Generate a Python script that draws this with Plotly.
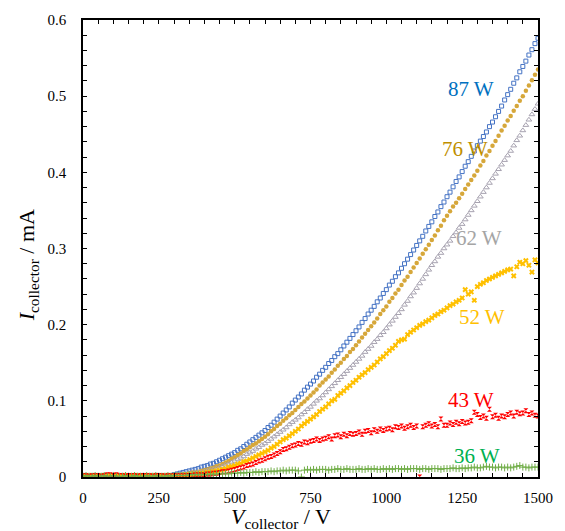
import plotly.graph_objects as go

# collector voltage (V), one reading every 10 V
v_collector = list(range(0, 1510, 10))

series_names = ["87 W", "76 W", "62 W", "52 W", "43 W", "36 W"]

# collector current (mA)
i_87w = [
    0.002, 0.002, 0.001, 0.002, 0.002, 0.001, 0.002, 0.002, 0.002, 0.001,
    0.002, 0.002, 0.001, 0.002, 0.002, 0.002, 0.001, 0.002, 0.002, 0.002,
    0.002, 0.001, 0.002, 0.002, 0.002, 0.002, 0.001, 0.002, 0.002, 0.002,
    0.003, 0.004, 0.005, 0.006, 0.007, 0.008, 0.009, 0.010, 0.011, 0.013,
    0.014, 0.015, 0.017, 0.018, 0.020, 0.022, 0.024, 0.026, 0.028, 0.030,
    0.032, 0.035, 0.037, 0.040, 0.043, 0.046, 0.049, 0.052, 0.055, 0.058,
    0.061, 0.065, 0.068, 0.072, 0.076, 0.080, 0.084, 0.088, 0.092, 0.097,
    0.101, 0.105, 0.109, 0.114, 0.118, 0.122, 0.126, 0.131, 0.135, 0.140,
    0.144, 0.149, 0.153, 0.158, 0.162, 0.167, 0.172, 0.177, 0.182, 0.187,
    0.192, 0.197, 0.203, 0.208, 0.214, 0.219, 0.224, 0.230, 0.235, 0.241,
    0.246, 0.252, 0.257, 0.263, 0.268, 0.274, 0.280, 0.286, 0.292, 0.298,
    0.304, 0.310, 0.316, 0.323, 0.329, 0.335, 0.342, 0.348, 0.355, 0.361,
    0.368, 0.374, 0.381, 0.388, 0.394, 0.401, 0.408, 0.414, 0.421, 0.428,
    0.435, 0.441, 0.447, 0.453, 0.460, 0.466, 0.473, 0.480, 0.487, 0.495,
    0.502, 0.509, 0.517, 0.524, 0.532, 0.539, 0.546, 0.554, 0.561, 0.569,
    0.576,
]
i_76w = [
    0.002, 0.001, 0.002, 0.002, 0.001, 0.002, 0.002, 0.002, 0.001, 0.002,
    0.002, 0.001, 0.002, 0.002, 0.002, 0.001, 0.002, 0.002, 0.001, 0.002,
    0.002, 0.002, 0.001, 0.002, 0.002, 0.001, 0.002, 0.002, 0.002, 0.002,
    0.002, 0.003, 0.003, 0.004, 0.004, 0.005, 0.006, 0.006, 0.007, 0.008,
    0.009, 0.010, 0.011, 0.012, 0.014, 0.015, 0.017, 0.019, 0.021, 0.024,
    0.026, 0.029, 0.031, 0.034, 0.036, 0.039, 0.042, 0.044, 0.047, 0.050,
    0.053, 0.056, 0.060, 0.063, 0.067, 0.070, 0.074, 0.077, 0.081, 0.084,
    0.088, 0.092, 0.096, 0.099, 0.103, 0.107, 0.111, 0.115, 0.120, 0.124,
    0.128, 0.132, 0.137, 0.141, 0.146, 0.150, 0.155, 0.159, 0.164, 0.168,
    0.173, 0.178, 0.183, 0.188, 0.193, 0.198, 0.203, 0.208, 0.214, 0.219,
    0.224, 0.230, 0.235, 0.241, 0.246, 0.252, 0.258, 0.263, 0.269, 0.275,
    0.281, 0.287, 0.293, 0.299, 0.305, 0.311, 0.317, 0.324, 0.330, 0.337,
    0.343, 0.349, 0.355, 0.360, 0.366, 0.372, 0.378, 0.384, 0.390, 0.396,
    0.402, 0.409, 0.415, 0.422, 0.428, 0.435, 0.441, 0.448, 0.455, 0.461,
    0.468, 0.474, 0.481, 0.487, 0.494, 0.500, 0.507, 0.514, 0.521, 0.528,
    0.535,
]
i_62w = [
    0.001, 0.002, 0.002, 0.001, 0.002, 0.002, 0.001, 0.002, 0.002, 0.002,
    0.001, 0.002, 0.002, 0.002, 0.001, 0.002, 0.002, 0.001, 0.002, 0.002,
    0.002, 0.001, 0.002, 0.002, 0.001, 0.002, 0.002, 0.002, 0.001, 0.002,
    0.002, 0.002, 0.003, 0.003, 0.003, 0.004, 0.004, 0.005, 0.006, 0.006,
    0.007, 0.008, 0.009, 0.010, 0.011, 0.012, 0.014, 0.016, 0.017, 0.019,
    0.021, 0.023, 0.025, 0.027, 0.030, 0.032, 0.034, 0.037, 0.039, 0.042,
    0.044, 0.047, 0.050, 0.053, 0.056, 0.059, 0.062, 0.065, 0.069, 0.072,
    0.075, 0.078, 0.082, 0.085, 0.089, 0.092, 0.096, 0.100, 0.103, 0.107,
    0.111, 0.115, 0.119, 0.123, 0.127, 0.131, 0.135, 0.139, 0.143, 0.147,
    0.151, 0.155, 0.159, 0.164, 0.168, 0.172, 0.177, 0.181, 0.186, 0.190,
    0.195, 0.200, 0.205, 0.210, 0.215, 0.220, 0.226, 0.231, 0.237, 0.242,
    0.248, 0.254, 0.260, 0.266, 0.272, 0.278, 0.283, 0.289, 0.294, 0.300,
    0.305, 0.310, 0.316, 0.321, 0.327, 0.332, 0.338, 0.344, 0.350, 0.356,
    0.362, 0.368, 0.374, 0.380, 0.386, 0.392, 0.398, 0.404, 0.410, 0.416,
    0.422, 0.428, 0.435, 0.442, 0.448, 0.455, 0.462, 0.469, 0.476, 0.483,
    0.490,
]
i_52w = [
    0.002, 0.001, 0.002, 0.002, 0.002, 0.001, 0.002, 0.002, 0.001, 0.002,
    0.002, 0.002, 0.001, 0.002, 0.002, 0.001, 0.002, 0.002, 0.002, 0.001,
    0.002, 0.002, 0.001, 0.002, 0.002, 0.002, 0.001, 0.002, 0.002, 0.001,
    0.001, 0.002, 0.002, 0.002, 0.003, 0.003, 0.003, 0.004, 0.004, 0.005,
    0.005, 0.006, 0.006, 0.007, 0.008, 0.009, 0.010, 0.011, 0.013, 0.014,
    0.015, 0.017, 0.018, 0.020, 0.021, 0.023, 0.025, 0.027, 0.029, 0.031,
    0.033, 0.035, 0.038, 0.040, 0.043, 0.046, 0.049, 0.051, 0.054, 0.057,
    0.060, 0.063, 0.067, 0.070, 0.073, 0.076, 0.079, 0.082, 0.086, 0.089,
    0.092, 0.096, 0.100, 0.102, 0.107, 0.110, 0.113, 0.117, 0.120, 0.124,
    0.127, 0.131, 0.134, 0.137, 0.141, 0.144, 0.147, 0.151, 0.155, 0.158,
    0.162, 0.166, 0.169, 0.173, 0.178, 0.180, 0.181, 0.187, 0.190, 0.193,
    0.196, 0.199, 0.201, 0.204, 0.206, 0.209, 0.212, 0.214, 0.217, 0.219,
    0.222, 0.225, 0.227, 0.230, 0.232, 0.235, 0.246, 0.240, 0.243, 0.232,
    0.250, 0.253, 0.255, 0.258, 0.260, 0.262, 0.264, 0.266, 0.268, 0.270,
    0.272, 0.273, 0.264, 0.276, 0.282, 0.280, 0.284, 0.278, 0.269, 0.285,
    0.281,
]
i_43w = [
    0.002, 0.002, 0.001, 0.002, 0.002, 0.002, 0.001, 0.002, 0.003, 0.003,
    0.002, 0.003, 0.002, 0.002, 0.001, 0.002, 0.002, 0.002, 0.001, 0.002,
    0.002, 0.002, 0.002, 0.001, 0.002, 0.002, 0.002, 0.001, 0.002, 0.002,
    0.002, 0.002, 0.002, 0.002, 0.002, 0.002, 0.002, 0.003, 0.003, 0.003,
    0.003, 0.004, 0.004, 0.005, 0.005, 0.006, 0.007, 0.007, 0.008, 0.009,
    0.010, 0.011, 0.012, 0.013, 0.015, 0.016, 0.017, 0.019, 0.021, 0.022,
    0.024, 0.026, 0.027, 0.029, 0.031, 0.033, 0.036, 0.037, 0.039, 0.041,
    0.042, 0.044, 0.043, 0.046, 0.045, 0.047, 0.048, 0.050, 0.048, 0.050,
    0.051, 0.053, 0.050, 0.054, 0.055, 0.053, 0.056, 0.054, 0.057, 0.056,
    0.057, 0.059, 0.056, 0.060, 0.061, 0.058, 0.062, 0.060, 0.063, 0.061,
    0.063, 0.064, 0.062, 0.066, 0.065, 0.067, 0.064, 0.066, 0.068, 0.065,
    0.067, 0.000, 0.066, 0.068, 0.070, 0.067, 0.069, 0.066, 0.076, 0.068,
    0.068, 0.071, 0.069, 0.072, 0.070, 0.073, 0.071, 0.072, 0.074, 0.085,
    0.082, 0.078, 0.080, 0.077, 0.089, 0.079, 0.081, 0.077, 0.080, 0.079,
    0.082, 0.084, 0.080, 0.085, 0.083, 0.084, 0.087, 0.082, 0.084, 0.081,
    0.080,
]
i_36w = [
    0.001, 0.002, 0.001, 0.001, 0.002, 0.001, 0.001, 0.002, 0.001, 0.001,
    0.002, 0.001, 0.001, 0.001, 0.002, 0.001, 0.001, 0.002, 0.001, 0.001,
    0.001, 0.002, 0.001, 0.001, 0.002, 0.001, 0.001, 0.001, 0.002, 0.001,
    0.002, 0.002, 0.002, 0.002, 0.002, 0.003, 0.003, 0.003, 0.003, 0.003,
    0.003, 0.003, 0.004, 0.003, 0.004, 0.004, 0.004, 0.005, 0.004, 0.005,
    0.005, 0.005, 0.006, 0.005, 0.006, 0.006, 0.006, 0.007, 0.006, 0.007,
    0.007, 0.007, 0.008, 0.007, 0.008, 0.008, 0.009, 0.008, 0.009, 0.009,
    0.009, 0.008, 0.000, 0.009, 0.010, 0.009, 0.010, 0.009, 0.010, 0.010,
    0.010, 0.009, 0.010, 0.010, 0.011, 0.010, 0.010, 0.011, 0.010, 0.010,
    0.010, 0.011, 0.010, 0.010, 0.011, 0.010, 0.011, 0.010, 0.010, 0.011,
    0.010, 0.011, 0.010, 0.011, 0.011, 0.010, 0.011, 0.010, 0.011, 0.011,
    0.011, 0.010, 0.011, 0.011, 0.010, 0.011, 0.011, 0.011, 0.010, 0.011,
    0.011, 0.011, 0.012, 0.011, 0.011, 0.012, 0.011, 0.012, 0.012, 0.013,
    0.012, 0.012, 0.013, 0.014, 0.013, 0.013, 0.012, 0.013, 0.013, 0.012,
    0.013, 0.012, 0.013, 0.014, 0.015, 0.013, 0.013, 0.012, 0.013, 0.013,
    0.013,
]

# label positions (V, mA) for the inline series labels
label_v = [1280, 1260, 1306, 1316, 1280, 1300]
label_i = [0.510, 0.431, 0.314, 0.210, 0.1015, 0.027]

x_ticks = [0, 250, 500, 750, 1000, 1250, 1500]
y_ticks = [0, 0.1, 0.2, 0.3, 0.4, 0.5, 0.6]

SERIF = "Liberation Serif, Times New Roman, serif"

series_values = [i_87w, i_76w, i_62w, i_52w, i_43w, i_36w]
marker_styles = [
    dict(symbol="square-open", size=4, color="#4472C4", line=dict(width=1, color="#4472C4")),
    dict(symbol="circle", size=4.5, color="#D6A73A", line=dict(width=0)),
    dict(symbol="triangle-up-open", size=5, color="#A7A2B0", line=dict(width=1, color="#A7A2B0")),
    dict(symbol="x", size=5, color="#FFC000", line=dict(width=0)),
    dict(symbol="hourglass", size=5, color="#FF0000", line=dict(width=0)),
    dict(symbol="cross-thin-open", size=5, color="#70AD47", line=dict(width=1, color="#70AD47")),
]
label_colors = ["#0070C0", "#BF8F00", "#A5A5A5", "#FFC000", "#FF0000", "#00B050"]

fig = go.Figure()
for name, vals, mk in zip(series_names, series_values, marker_styles):
    fig.add_trace(go.Scatter(x=v_collector, y=vals, mode="markers", name=name, marker=mk))

for name, lv, li, c in zip(series_names, label_v, label_i, label_colors):
    fig.add_annotation(x=lv, y=li, xref="x", yref="y", text=name, showarrow=False,
                       xanchor="center", yanchor="middle",
                       font=dict(family=SERIF, size=21, color=c))

fig.add_annotation(xref="paper", yref="paper", x=0.435, y=-0.089, showarrow=False,
                   xanchor="center", yanchor="middle",
                   text="<i>V</i><sub>collector</sub> / V",
                   font=dict(family=SERIF, size=22, color="black"))
fig.add_annotation(xref="paper", yref="paper", x=-0.12, y=0.464, showarrow=False, textangle=-90,
                   xanchor="center", yanchor="middle",
                   text="<i>I</i><sub>collector</sub> / mA",
                   font=dict(family=SERIF, size=22, color="black"))

axis_common = dict(
    showline=True, linecolor="black", linewidth=1.5, mirror="ticks",
    ticks="inside", ticklen=4, tickwidth=1, tickcolor="black",
    showgrid=False, zeroline=False,
    tickfont=dict(family=SERIF, size=15, color="black"),
)
fig.update_xaxes(range=[0, 1500], tickvals=x_ticks, ticktext=[str(t) for t in x_ticks],
                 minor=dict(dtick=50, tick0=0, ticks="inside", ticklen=4, tickcolor="black", showgrid=False),
                 ticklabelstandoff=6, **axis_common)
fig.update_yaxes(range=[0, 0.6], tickvals=y_ticks, ticktext=["0", "0.1", "0.2", "0.3", "0.4", "0.5", "0.6"],
                 minor=dict(dtick=0.02, tick0=0, ticks="inside", ticklen=4, tickcolor="black", showgrid=False),
                 ticklabelstandoff=12, **axis_common)

fig.update_layout(
    width=565, height=531,
    margin=dict(l=83, r=25, t=16, b=54),
    paper_bgcolor="white", plot_bgcolor="white",
    showlegend=False,
)

fig.write_html("out.html")
